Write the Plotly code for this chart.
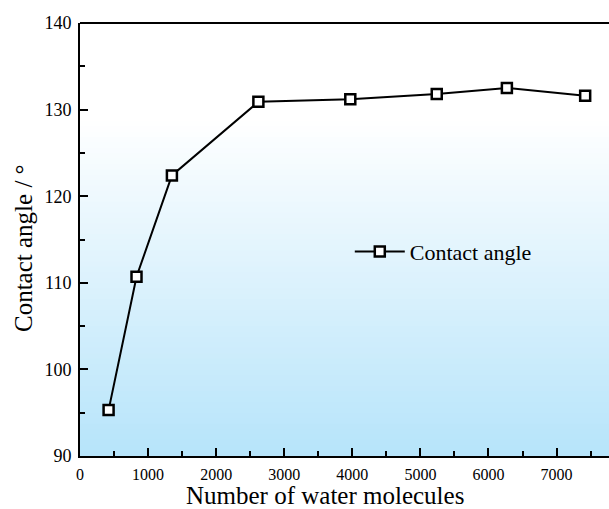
import plotly.graph_objects as go

# Data
water_molecules = [420, 830, 1350, 2620, 3970, 5240, 6270, 7420]
contact_angle = [95.3, 110.7, 122.4, 130.9, 131.2, 131.8, 132.5, 131.6]
series_name = "Contact angle"
x_title = "Number of water molecules"
y_title = "Contact angle / °"

FONT = "Liberation Serif, Times New Roman, serif"

fig = go.Figure()
fig.add_trace(go.Scatter(
    x=water_molecules, y=contact_angle, mode="lines+markers", name=series_name,
    line=dict(color="black", width=2),
    marker=dict(symbol="square", size=10, color="white",
                line=dict(color="black", width=2.5)),
))

# Vertical gradient background (white at top -> light blue at bottom)
n = 80
top_c = (255, 255, 255)
bot_c = (182, 228, 250)
white_from = 0.78
for i in range(n):
    y0 = i / n
    y1 = (i + 1) / n
    t = min(1.0, ((y0 + y1) / 2) / white_from)
    c = tuple(round(bot_c[k] + (top_c[k] - bot_c[k]) * t) for k in range(3))
    fig.add_shape(type="rect", xref="paper", yref="paper", x0=0, x1=1,
                  y0=y0, y1=y1 + 0.002, line=dict(width=0),
                  fillcolor="rgb(%d,%d,%d)" % c, layer="below")

# top frame line
fig.add_shape(type="line", xref="paper", yref="paper", x0=0, x1=1, y0=1, y1=1,
              line=dict(color="black", width=2), layer="above")

# axis titles as annotations for precise placement
fig.add_annotation(text=x_title, xref="paper", yref="paper",
                   x=(325 - 80) / 529, y=-(495 - 456) / 433,
                   xanchor="center", yanchor="middle", showarrow=False,
                   font=dict(size=25, family=FONT, color="black"))
fig.add_annotation(text=y_title, xref="paper", yref="paper",
                   x=-(80 - 23) / 529, y=(456 - 248) / 433, textangle=-90,
                   xanchor="center", yanchor="middle", showarrow=False,
                   font=dict(size=25, family=FONT, color="black"))

fig.update_layout(
    width=609, height=509,
    margin=dict(l=80, r=0, t=23, b=53),
    paper_bgcolor="white", plot_bgcolor="white",
    font=dict(family=FONT, color="black", size=16),
    showlegend=True,
    legend=dict(x=0.51, y=0.472, xanchor="left", yanchor="middle",
                itemwidth=50,
                bgcolor="rgba(0,0,0,0)", font=dict(size=22, family=FONT)),
    xaxis=dict(
        range=[0, 7770], tick0=0, dtick=1000, showgrid=False, zeroline=False,
        showline=True, linecolor="black", linewidth=2,
        ticks="inside", ticklen=8, tickwidth=1.5, tickcolor="black",
        minor=dict(dtick=500, ticks="inside", ticklen=5, tickwidth=1.5, tickcolor="black", showgrid=False),
        tickfont=dict(size=16, family=FONT), ticklabelstandoff=3,
    ),
    yaxis=dict(
        range=[90, 140], tick0=90, dtick=10, showgrid=False, zeroline=False,
        showline=True, linecolor="black", linewidth=2,
        ticks="inside", ticklen=8, tickwidth=1.5, tickcolor="black",
        minor=dict(dtick=5, ticks="inside", ticklen=5, tickwidth=1.5, tickcolor="black", showgrid=False),
        tickfont=dict(size=18, family=FONT), ticklabelstandoff=3,
    ),
)

fig.write_html("out.html")
